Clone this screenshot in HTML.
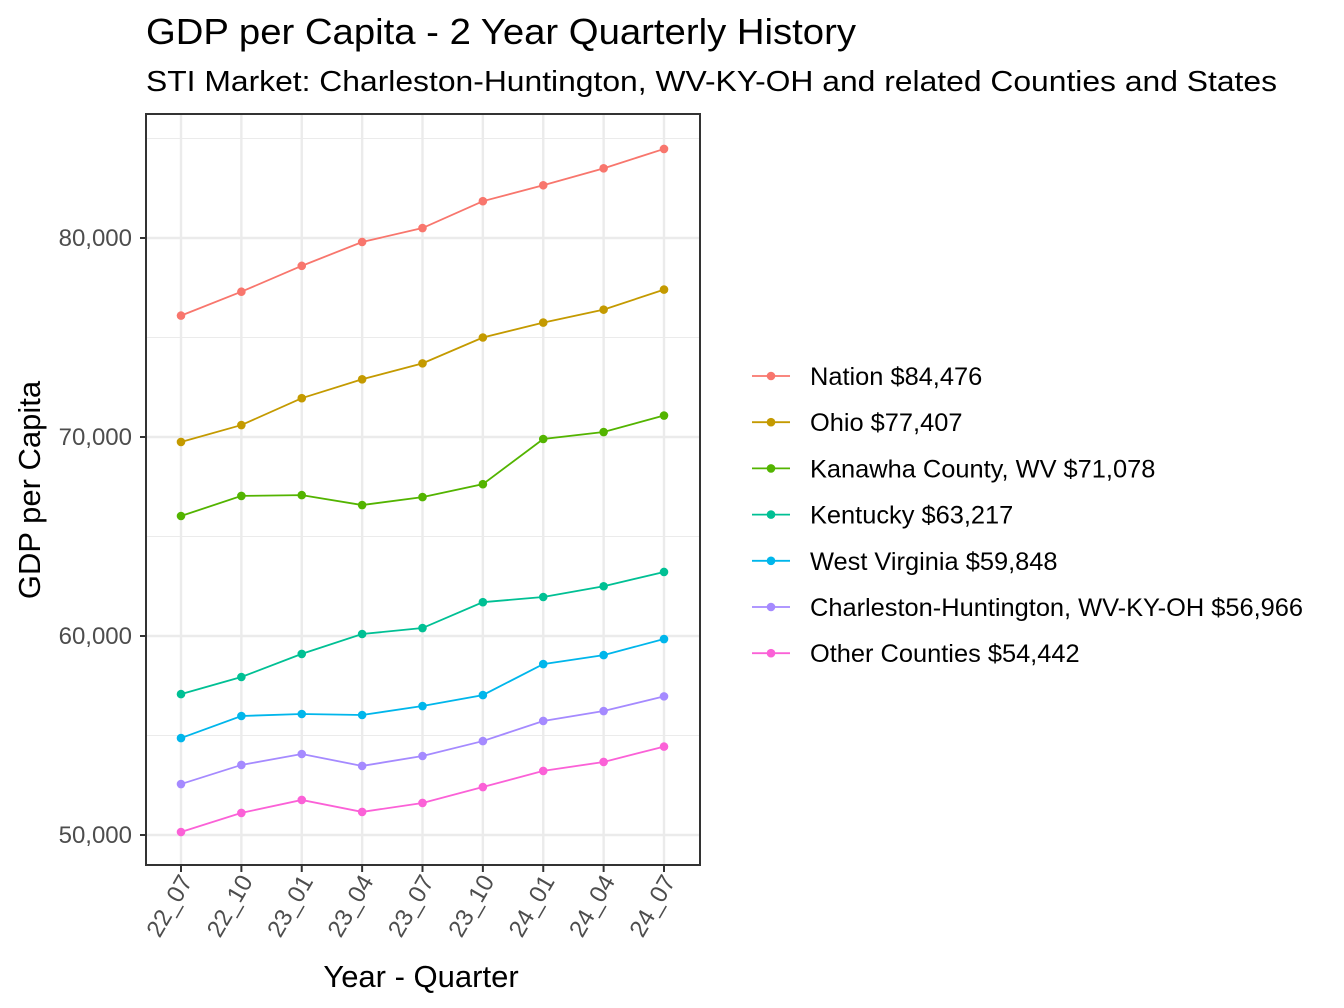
<!DOCTYPE html>
<html><head><meta charset="utf-8"><style>body{margin:0;background:#fff}svg{display:block;font-family:"Liberation Sans",Arial,sans-serif}</style></head>
<body>
<svg id="chart" width="1344" height="1008">
<text x="146" y="44" font-size="36" fill="#000" textLength="710" lengthAdjust="spacingAndGlyphs">GDP per Capita - 2 Year Quarterly History</text>
<text x="146" y="91" font-size="29" fill="#000" textLength="1131" lengthAdjust="spacingAndGlyphs">STI Market: Charleston-Huntington, WV-KY-OH and related Counties and States</text>
<g id="grid"></g><g id="series"></g><g id="axes"></g><g id="legend"></g>
<text x="0" y="0" font-size="31" fill="#000" text-anchor="middle" transform="translate(40,490) rotate(-90)">GDP per Capita</text>
<text x="421" y="987" font-size="31" fill="#000" text-anchor="middle">Year - Quarter</text>
</svg>
<script>
const categories=["22_07","22_10","23_01","23_04","23_07","23_10","24_01","24_04","24_07"];
const seriesNames=["Nation $84,476","Ohio $77,407","Kanawha County, WV $71,078","Kentucky $63,217","West Virginia $59,848","Charleston-Huntington, WV-KY-OH $56,966","Other Counties $54,442"];
const colors=["#F8766D","#C49A00","#53B400","#00C094","#00B6EB","#A58AFF","#FB61D7"];
const nation=[76100,77300,78600,79800,80500,81850,82650,83500,84476];
const ohio=[69750,70600,71950,72900,73700,75000,75750,76400,77407];
const kanawha=[66030,67040,67080,66580,66980,67630,69900,70250,71078];
const kentucky=[57080,57940,59100,60100,60400,61700,61960,62500,63217];
const westVirginia=[54870,55980,56080,56030,56480,57030,58590,59040,59848];
const charleston=[52560,53520,54070,53470,53970,54720,55730,56230,56966];
const otherCounties=[50150,51110,51760,51160,51610,52410,53220,53670,54442];
const yTicks=[50000,60000,70000,80000];
const yTickLabels=["50,000","60,000","70,000","80,000"];
const yMinor=[55000,65000,75000,85000];
const allSeries=[nation,ohio,kanawha,kentucky,westVirginia,charleston,otherCounties];

const NS="http://www.w3.org/2000/svg";
const L=146,R=700,T=114,B=865;
const x=i=>181+i*(664-181)/(categories.length-1);
const y=v=>835-(v-50000)*(835-238)/30000;
function mk(tag,attrs,parent){const e=document.createElementNS(NS,tag);for(const k in attrs)e.setAttribute(k,attrs[k]);parent.appendChild(e);return e;}
const grid=document.getElementById('grid'),ser=document.getElementById('series'),axes=document.getElementById('axes'),leg=document.getElementById('legend');
mk('rect',{x:L,y:T,width:R-L,height:B-T,fill:'#fff'},grid);
yMinor.forEach(v=>{const l=mk('line',{x1:L,x2:R,y1:y(v),y2:y(v),stroke:'#ebebeb','stroke-width':1},grid);

});
yTicks.forEach(v=>{const l=mk('line',{x1:L,x2:R,y1:y(v),y2:y(v),stroke:'#ebebeb','stroke-width':2.4},grid);

});
categories.forEach((c,i)=>{const l=mk('line',{x1:x(i),x2:x(i),y1:T,y2:B,stroke:'#ebebeb','stroke-width':2.4},grid);

});
allSeries.forEach((s,k)=>{
 const pl=mk('polyline',{points:s.map((v,i)=>x(i)+','+y(v)).join(' '),fill:'none',stroke:colors[k],'stroke-width':1.8},ser);
 
 
 s.forEach((v,i)=>{const c=mk('circle',{cx:x(i),cy:y(v),r:4.3,fill:colors[k]},ser);
 
 });
});
const fr=mk('rect',{x:L,y:T,width:R-L,height:B-T,fill:'none',stroke:'#333','stroke-width':2},axes);


yTicks.forEach((v,i)=>{mk('line',{x1:L-6,x2:L,y1:y(v),y2:y(v),stroke:'#333','stroke-width':2},axes);
 const t=mk('text',{x:L-14,y:y(v)+8,'font-size':24,fill:'#4d4d4d','text-anchor':'end'},axes);t.textContent=yTickLabels[i];
 
 });
categories.forEach((c,i)=>{mk('line',{x1:x(i),x2:x(i),y1:B,y2:B+7,stroke:'#333','stroke-width':2},axes);
 const t=mk('text',{'font-size':24,fill:'#4d4d4d','text-anchor':'end',transform:`translate(${x(i)+12},${B+16}) rotate(-60)`},axes);t.textContent=c;
 
 });
seriesNames.forEach((n,k)=>{const yy=376+k*46.2;
 const g=mk('g',{},leg);
 
 
 mk('line',{x1:752,x2:790,y1:yy,y2:yy,stroke:colors[k],'stroke-width':1.8},g);
 mk('circle',{cx:771,cy:yy,r:4.3,fill:colors[k]},g);
 const t=mk('text',{x:810,y:yy+9,'font-size':25.4,fill:'#000'},g);t.textContent=n;});
</script>
</body></html>
